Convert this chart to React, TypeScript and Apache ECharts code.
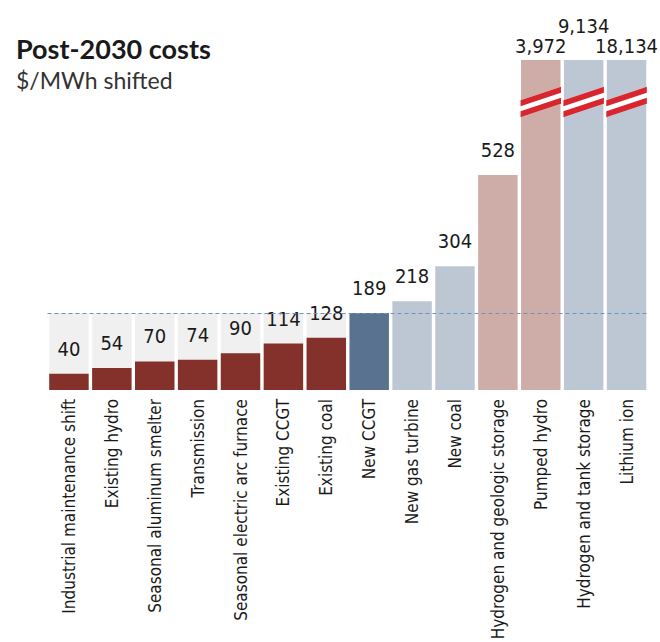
import React, { useEffect, useRef } from "react";
import * as echarts from "echarts";

const categories = [
  "Industrial maintenance shift",
  "Existing hydro",
  "Seasonal aluminum smelter",
  "Transmission",
  "Seasonal electric arc furnace",
  "Existing CCGT",
  "Existing coal",
  "New CCGT",
  "New gas turbine",
  "New coal",
  "Hydrogen and geologic storage",
  "Pumped hydro",
  "Hydrogen and tank storage",
  "Lithium ion",
];
const values = [40, 54, 70, 74, 90, 114, 128, 189, 218, 304, 528, 3972, 9134, 18134];
const groups = [
  "existing", "existing", "existing", "existing", "existing", "existing", "existing",
  "benchmark", "newGen", "newGen", "storagePink", "storagePink", "storageBlue", "storageBlue",
];
const referenceValue = 189; // New CCGT cost, dashed reference line
const axisCap = 810; // values above this are drawn as broken bars
const breakValue = 707; // where the break mark sits

const groupColors: Record<string, string> = {
  existing: "#84312B",
  benchmark: "#58728F",
  newGen: "#BDC7D3",
  storagePink: "#CEADA9",
  storageBlue: "#BDC7D3",
};

const NARROW = "'Liberation Sans Narrow', 'DejaVu Sans Condensed', 'Roboto', sans-serif";

export default function App() {
  const ref = useRef<HTMLDivElement>(null);
  useEffect(() => {
    if (!ref.current) return;
    const chart = echarts.init(ref.current, undefined, { renderer: "svg" });
    const fmt = (v: number) => v.toLocaleString("en-US");
    const option: any = {
      animation: false,
      title: {
        text: "Post-2030 costs",
        subtext: "$/MWh shifted",
        left: 11,
        top: 30,
        itemGap: 6,
        textStyle: { fontFamily: "Lato", fontWeight: "bold", fontSize: 27, color: "#1a1a1a" },
        subtextStyle: { fontFamily: "Lato", fontSize: 23, color: "#333" },
      },
      grid: { left: 47.5, right: 12, top: 60, bottom: 252, outerBoundsMode: "none", containLabel: false },
      xAxis: {
        type: "category",
        data: categories,
        axisLine: { show: false },
        axisTick: { show: false },
        axisLabel: {
          rotate: 90,
          interval: 0,
          margin: 9,
          fontSize: 17,
          fontFamily: NARROW,
          color: "#1a1a1a",
        },
      },
      yAxis: { type: "value", min: 0, max: axisCap, show: false },
      series: [
        {
          type: "bar",
          barCategoryGap: "8%",
          barGap: "-100%",
          silent: true,
          data: values.map((v, i) => (groups[i] === "existing" ? referenceValue : "-")),
          itemStyle: { color: "#F0F0F0" },
          z: 1,
        },
        {
          type: "bar",
          barCategoryGap: "8%",
          barGap: "-100%",
          z: 2,
          data: values.map((v, i) => ({
            value: Math.min(v, axisCap),
            itemStyle: { color: groupColors[groups[i]] },
            label: {
              distance:
                v > axisCap ? (categories[i] === "Hydrogen and tank storage" ? 24 : 4) : 15,
            },
          })),
          label: {
            show: true,
            position: "top",
            fontSize: 20,
            fontFamily: NARROW,
            color: "#1a1a1a",
            formatter: (p: any) => fmt(values[p.dataIndex]),
          },
          markLine: {
            silent: true,
            symbol: "none",
            label: { show: false },
            lineStyle: { type: [4, 3], color: "#6F90C6", width: 1 },
            data: [{ yAxis: referenceValue }],
          },
        },
        {
          type: "custom",
          z: 5,
          data: values
            .map((v, i) => (v > axisCap ? [i, breakValue] : null))
            .filter((d) => d !== null),
          renderItem: (params: any, api: any) => {
            const c = api.coord([api.value(0), api.value(1)]);
            const bw = api.size([1, 0])[0] * 0.92 + 1;
            const x0 = c[0] - bw / 2;
            const x1 = c[0] + bw / 2;
            const half = bw / 2;
            const k = 0.33;
            const band = (a: number, b: number) => [
              [x0, c[1] + a + k * half],
              [x1, c[1] + a - k * half],
              [x1, c[1] + b - k * half],
              [x0, c[1] + b + k * half],
            ];
            return {
              type: "group",
              children: [
                { type: "polygon", shape: { points: band(-8.5, 8.5) }, style: { fill: "#ffffff" } },
                { type: "polygon", shape: { points: band(-8.5, -2.5) }, style: { fill: "#D7262E" } },
                { type: "polygon", shape: { points: band(2.5, 8.5) }, style: { fill: "#D7262E" } },
              ],
            };
          },
        },
      ],
    };
    chart.setOption(option);
    return () => chart.dispose();
  }, []);
  return (
    <div
      ref={ref}
      style={{ position: "absolute", left: 0, top: 0, width: 660, height: 642, background: "#fff" }}
    />
  );
}
